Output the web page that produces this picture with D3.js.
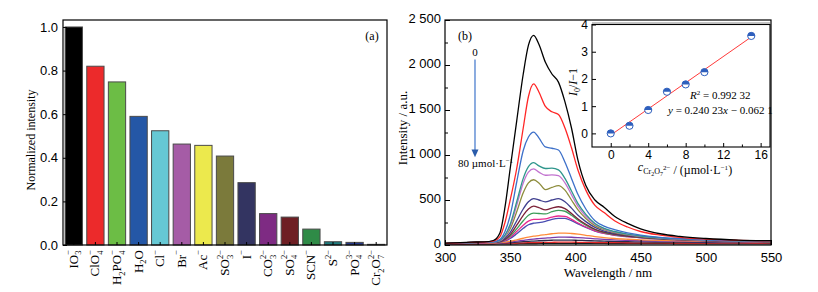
<!DOCTYPE html>
<html>
<head>
<meta charset="utf-8">
<script src="https://cdn.jsdelivr.net/npm/d3@7"></script>
<style>
  body { margin: 0; background: #fff; }
  svg { font-family: "Liberation Serif", "Times New Roman", serif; }
  .tick text { font-size: 13px; fill: #000; }
  .tick line { stroke: #000; }
</style>
</head>
<body>
<div id="chart"></div>
<script>
// (a) normalized intensity per anion
const anions = ["IO_{3}^{−}", "ClO_{4}^{−}", "H_{2}PO_{4}^{−}", "H_{2}O", "Cl^{−}", "Br^{−}", "Ac^{−}",
  "SO_{3}^{2−}", "I^{−}", "CO_{3}^{2−}", "SO_{4}^{2−}", "SCN^{−}", "S^{2−}", "PO_{4}^{3−}", "Cr_{2}O_{7}^{2−}"];
const normIntensity = [1.0, 0.82, 0.748, 0.59, 0.524, 0.463, 0.457, 0.408, 0.286, 0.144, 0.128, 0.073, 0.015, 0.012, 0.003];
const barColors = ["#000000", "#ec2a2b", "#6cbd45", "#2457a6", "#66c8d4", "#a55ca6", "#ece94d", "#7b7a3b",
  "#333461", "#7e2b83", "#6e1f24", "#2f8b47", "#1e7a7d", "#26398a", "#ffffff"];
const yTicksA = [0, 0.2, 0.4, 0.6, 0.8, 1.0];

// (b) emission spectra, 0 -> 80 umol/L dichromate
const wavelengths = [300, 320, 330, 337, 342, 346, 350, 355, 360, 364, 368, 372, 377, 382, 387, 392, 397, 402, 408, 415, 422, 430, 440, 450, 465, 480, 500, 525, 550];
const curve01 = [20, 32, 35, 50, 130, 420, 850, 1380, 1900, 2220, 2330, 2230, 2030, 1900, 1810, 1590, 1300, 940, 660, 500, 420, 320, 240, 180, 125, 95, 72, 55, 48];
const curve02 = [18, 30, 33, 42, 90, 250, 500, 850, 1300, 1650, 1790, 1700, 1540, 1480, 1450, 1300, 1080, 830, 610, 440, 360, 270, 200, 150, 110, 85, 65, 52, 45];
const curve03 = [15, 28, 30, 35, 60, 150, 330, 700, 1050, 1200, 1255, 1190, 1090, 1075, 1055, 920, 740, 560, 400, 270, 210, 170, 135, 110, 85, 72, 58, 48, 42];
const curve04 = [15, 28, 30, 34, 50, 110, 230, 480, 740, 870, 915, 880, 850, 855, 835, 740, 600, 460, 340, 240, 185, 150, 120, 100, 80, 68, 56, 47, 40];
const curve05 = [15, 28, 30, 33, 48, 100, 210, 440, 690, 810, 845, 810, 775, 780, 770, 690, 560, 430, 320, 230, 180, 145, 118, 98, 78, 66, 55, 46, 40];
const curve06 = [15, 28, 30, 32, 45, 90, 180, 370, 580, 690, 725, 690, 615, 640, 660, 610, 500, 390, 295, 215, 170, 138, 112, 94, 76, 64, 54, 45, 39];
const curve07 = [14, 27, 29, 31, 40, 75, 140, 270, 400, 480, 515, 500, 480, 500, 515, 480, 410, 330, 260, 195, 155, 128, 106, 90, 73, 62, 52, 44, 38];
const curve08 = [14, 27, 29, 31, 38, 65, 115, 220, 330, 400, 432, 415, 390, 410, 425, 405, 350, 290, 230, 175, 142, 120, 100, 86, 70, 60, 50, 43, 37];
const curve09 = [14, 27, 29, 31, 36, 58, 100, 180, 270, 330, 355, 350, 345, 370, 385, 375, 330, 275, 220, 170, 138, 116, 98, 84, 69, 59, 49, 42, 36];
const curve10 = [14, 26, 28, 30, 34, 50, 85, 150, 220, 265, 285, 285, 290, 310, 322, 318, 285, 245, 200, 158, 130, 110, 94, 81, 67, 57, 48, 41, 35];
const curve11 = [14, 26, 28, 30, 33, 45, 72, 125, 185, 225, 242, 248, 262, 285, 296, 295, 270, 235, 195, 155, 128, 108, 92, 80, 66, 56, 47, 40, 35];
const curve12 = [12, 22, 24, 25, 27, 32, 42, 58, 75, 88, 98, 105, 115, 125, 132, 133, 128, 120, 108, 94, 82, 72, 64, 58, 51, 46, 41, 37, 33];
const curve13 = [12, 20, 22, 23, 24, 27, 33, 42, 52, 60, 66, 71, 77, 83, 87, 88, 86, 82, 76, 69, 62, 56, 51, 47, 43, 40, 37, 34, 31];
const curve14 = [10, 18, 20, 21, 22, 24, 27, 32, 37, 41, 44, 47, 50, 53, 55, 55, 54, 52, 49, 46, 43, 40, 37, 35, 33, 31, 29, 27, 25];
const curve15 = [8, 14, 15, 16, 17, 18, 20, 22, 24, 26, 27, 28, 29, 30, 31, 31, 31, 30, 29, 28, 27, 26, 25, 24, 23, 22, 21, 20, 19];
const curve16 = [6, 10, 11, 11, 12, 12, 13, 14, 15, 16, 16, 17, 17, 18, 18, 18, 18, 18, 17, 17, 17, 16, 16, 15, 15, 14, 14, 13, 13];
const curves = [curve01, curve02, curve03, curve04, curve05, curve06, curve07, curve08, curve09, curve10, curve11, curve12, curve13, curve14, curve15, curve16];
const curveColors = ["#000000", "#ff2626", "#3d70c9", "#2f968c", "#c273cf", "#8d8c3c", "#3f3f8f", "#7b2036",
  "#3d9d59", "#e8298d", "#4a4db2", "#ff8b3a", "#7a3bab", "#2b2b4b", "#e02828", "#1c1c1c"];
const xTicksB = [300, 350, 400, 450, 500, 550];
const yTicksB = [0, 500, 1000, 1500, 2000, 2500];

// inset: Stern-Volmer
const svConc = [0, 2, 4, 6, 8, 10, 15];
const svRatio = [0.0, 0.28, 0.86, 1.53, 1.8, 2.25, 3.58];
const svSlope = 0.24023, svIntercept = -0.0621;

const W = 818, H = 292;
const svg = d3.select("#chart").append("svg").attr("width", W).attr("height", H);

// rich text helper: "X_{sub}^{sup}", sup stacked over a preceding sub
function richText(sel, str, size, subSize) {
  const tokens = str.match(/(_\{[^}]*\}|\^\{[^}]*\}|[^_^]+)/g);
  let offset = 0, lastSub = null;
  tokens.forEach(t => {
    if (t[0] === "_") {
      const ts = sel.append("tspan").attr("font-size", subSize).attr("dy", 3.5 - offset).text(t.slice(2, -1));
      offset = 3.5; lastSub = ts;
    } else if (t[0] === "^") {
      const ts = sel.append("tspan").attr("font-size", subSize).attr("dy", -6.5 - offset).text(t.slice(2, -1));
      if (lastSub) ts.attr("dx", -lastSub.node().getComputedTextLength());
      offset = -6.5; lastSub = null;
    } else {
      sel.append("tspan").attr("font-size", size).attr("dy", -offset).text(t);
      offset = 0; lastSub = null;
    }
  });
}

// ---------- panel (a) ----------
const xa = d3.scaleBand().domain(d3.range(anions.length)).range([63, 387]).paddingInner(0.2).paddingOuter(0.1);
const ya = d3.scaleLinear().domain([0, 1.032]).range([245, 20]);

const ga = svg.append("g");
ga.selectAll("rect.bar")
  .data(normIntensity)
  .enter().append("rect")
    .attr("class", "bar")
    .attr("x", (d, i) => xa(i))
    .attr("y", d => ya(d))
    .attr("width", xa.bandwidth())
    .attr("height", d => ya(0) - ya(d))
    .attr("fill", (d, i) => barColors[i])
    .attr("stroke", "#4a4a4a")
    .attr("stroke-width", 1);

ga.append("g")
  .attr("transform", "translate(63,0)")
  .call(d3.axisLeft(ya).tickValues(yTicksA).tickFormat(d3.format(".1f")).tickSizeInner(-4).tickSizeOuter(0).tickPadding(5))
  .call(g => g.select(".domain").remove());

ga.append("g")
  .attr("transform", "translate(0,245)")
  .call(d3.axisBottom(xa).tickFormat("").tickSizeInner(-3).tickSizeOuter(0))
  .call(g => g.select(".domain").remove());

ga.append("rect").attr("x", 63).attr("y", 20).attr("width", 324).attr("height", 225)
  .attr("fill", "none").attr("stroke", "#000").attr("stroke-width", 1.2);

anions.forEach((a, i) => {
  const t = ga.append("text")
    .attr("transform", `translate(${xa(i) + xa.bandwidth() / 2 + 4},250) rotate(-90)`)
    .attr("text-anchor", "end")
    .attr("font-size", 13);
  richText(t, a, 13, 8.5);
});

ga.append("text")
  .attr("transform", "translate(35,140) rotate(-90)")
  .attr("text-anchor", "middle")
  .attr("font-size", 12)
  .text("Normalized intensity");

ga.append("text").attr("x", 372).attr("y", 40).attr("text-anchor", "middle").attr("font-size", 12).text("(a)");

// ---------- panel (b) ----------
const xb = d3.scaleLinear().domain([300, 550]).range([445, 771]);
const yb = d3.scaleLinear().domain([0, 2500]).range([245, 20]);

const gb = svg.append("g");
gb.append("clipPath").attr("id", "clipB").append("rect").attr("x", 445).attr("y", 20).attr("width", 326).attr("height", 225);

const line = d3.line().x((d, i) => xb(wavelengths[i])).y(d => yb(d)).curve(d3.curveMonotoneX);
gb.append("g").attr("clip-path", "url(#clipB)")
  .selectAll("path.spec")
  .data(curves.map((c, i) => ({c, i})).reverse())
  .enter().append("path")
    .attr("class", "spec")
    .attr("d", d => line(d.c))
    .attr("fill", "none")
    .attr("stroke", d => curveColors[d.i])
    .attr("stroke-width", 1.3);

const fmtK = d => d3.format(",")(d).replace(",", " ");
gb.append("g")
  .attr("transform", "translate(445,0)")
  .call(d3.axisLeft(yb).tickValues(yTicksB).tickFormat(fmtK).tickSizeInner(-5).tickSizeOuter(0).tickPadding(4))
  .call(g => g.select(".domain").remove())
  .call(g => g.selectAll("text").attr("dy", "0.2em"));
gb.append("g")
  .attr("transform", "translate(445,0)")
  .call(d3.axisLeft(yb).tickValues([250, 750, 1250, 1750, 2250]).tickFormat("").tickSizeInner(-3).tickSizeOuter(0))
  .call(g => g.select(".domain").remove());
gb.append("g")
  .attr("transform", "translate(0,245)")
  .call(d3.axisBottom(xb).tickValues(xTicksB).tickSizeInner(-5).tickSizeOuter(0).tickPadding(8))
  .call(g => g.select(".domain").remove());
gb.append("g")
  .attr("transform", "translate(0,245)")
  .call(d3.axisBottom(xb).tickValues([325, 375, 425, 475, 525]).tickFormat("").tickSizeInner(-3).tickSizeOuter(0))
  .call(g => g.select(".domain").remove());

gb.append("rect").attr("x", 445).attr("y", 20).attr("width", 326).attr("height", 225)
  .attr("fill", "none").attr("stroke", "#000").attr("stroke-width", 1.2);

gb.append("text")
  .attr("transform", "translate(407,128) rotate(-90)")
  .attr("text-anchor", "middle").attr("font-size", 13)
  .text("Intensity / a.u.");
gb.append("text").attr("x", 608).attr("y", 277).attr("text-anchor", "middle").attr("font-size", 13).text("Wavelength / nm");
gb.append("text").attr("x", 465).attr("y", 40).attr("text-anchor", "middle").attr("font-size", 12).text("(b)");

// concentration arrow
gb.append("line")
  .attr("x1", xb(323)).attr("x2", xb(323)).attr("y1", yb(2060)).attr("y2", yb(1040))
  .attr("stroke", "#6f98d8").attr("stroke-width", 1.6);
gb.append("path")
  .attr("d", `M${xb(323) - 3.5},${yb(1060)} L${xb(323) + 3.5},${yb(1060)} L${xb(323)},${yb(975)} Z`)
  .attr("fill", "#2a5caa");
gb.append("text").attr("x", xb(323)).attr("y", yb(2100)).attr("text-anchor", "middle").attr("font-size", 11).text("0");
const lab80 = gb.append("text").attr("x", xb(310)).attr("y", yb(870)).attr("font-size", 11);
lab80.append("tspan").text("80 µmol·L");
lab80.append("tspan").attr("font-size", 7).attr("dy", -4).text("−1");

// ---------- inset ----------
const xc = d3.scaleLinear().domain([-2, 17]).range([592, 770]);
const yc = d3.scaleLinear().domain([-0.5, 4]).range([147, 24.5]);
const gc = svg.append("g");
gc.append("rect").attr("x", 592).attr("y", 24.5).attr("width", 178).attr("height", 122.5)
  .attr("fill", "#fff").attr("stroke", "#000").attr("stroke-width", 1.1);
gc.append("line").attr("x1", 592).attr("x2", 770).attr("y1", 23).attr("y2", 23).attr("stroke", "#888").attr("stroke-width", 1);

gc.append("line")
  .attr("x1", xc(0)).attr("x2", xc(15))
  .attr("y1", yc(svIntercept)).attr("y2", yc(svSlope * 15 + svIntercept))
  .attr("stroke", "#ff3a3a").attr("stroke-width", 1);

const pts = gc.selectAll("g.pt").data(svConc).enter().append("g")
  .attr("class", "pt")
  .attr("transform", (d, i) => `translate(${xc(d)},${yc(svRatio[i])})`);
pts.append("circle").attr("r", 3.6).attr("fill", "#fff").attr("stroke", "#2e5fbd").attr("stroke-width", 1);
pts.append("path").attr("d", "M-3.6,0 A3.6,3.6 0 0 1 3.6,0 Z").attr("fill", "#2e5fbd");

gc.append("g")
  .attr("transform", "translate(592,0)")
  .call(d3.axisLeft(yc).tickValues([0, 1, 2, 3, 4]).tickFormat(d3.format("d")).tickSizeInner(-4).tickSizeOuter(0).tickPadding(4))
  .call(g => g.select(".domain").remove())
  .call(g => g.selectAll("text").style("font-size", "12px"));
gc.append("g")
  .attr("transform", "translate(0,147)")
  .call(d3.axisBottom(xc).tickValues([0, 4, 8, 12, 16]).tickFormat(d3.format("d")).tickSizeInner(-4).tickSizeOuter(0).tickPadding(3))
  .call(g => g.select(".domain").remove())
  .call(g => g.selectAll("text").style("font-size", "12px"));
gc.append("g")
  .attr("transform", "translate(0,147)")
  .call(d3.axisBottom(xc).tickValues([2, 6, 10, 14]).tickFormat("").tickSizeInner(-2.5).tickSizeOuter(0))
  .call(g => g.select(".domain").remove());

const yl = gc.append("text").attr("transform", "translate(577,82) rotate(-90)").attr("text-anchor", "middle").attr("font-size", 12);
yl.append("tspan").attr("font-style", "italic").text("I");
yl.append("tspan").attr("font-size", 8).attr("dy", 2.5).text("0");
yl.append("tspan").attr("dy", -2.5).text("/");
yl.append("tspan").attr("font-style", "italic").text("I");
yl.append("tspan").text("−1");

const r2 = gc.append("text").attr("x", 690).attr("y", 99).attr("font-size", 11);
r2.append("tspan").attr("font-style", "italic").text("R");
r2.append("tspan").attr("font-size", 7).attr("dy", -4).text("2");
r2.append("tspan").attr("dy", 4).text(" = 0.992 32");

const eq = gc.append("text").attr("x", 668).attr("y", 114).attr("font-size", 11);
eq.append("tspan").attr("font-style", "italic").text("y");
eq.append("tspan").text(" = 0.240 23");
eq.append("tspan").attr("font-style", "italic").text("x");
eq.append("tspan").text(" − 0.062 1");

const xl = gc.append("text").attr("x", 685).attr("y", 171).attr("text-anchor", "middle").attr("font-size", 12);
xl.append("tspan").attr("font-style", "italic").text("c");
xl.append("tspan").attr("font-size", 8).attr("dy", 3).text("Cr");
xl.append("tspan").attr("font-size", 6).attr("dy", 2).text("2");
xl.append("tspan").attr("font-size", 8).attr("dy", -2).text("O");
xl.append("tspan").attr("font-size", 6).attr("dy", 2).text("7");
xl.append("tspan").attr("font-size", 7).attr("dy", -6).text("2−");
xl.append("tspan").attr("dy", 4).text(" / (µmol·L");
xl.append("tspan").attr("font-size", 7).attr("dy", -4).text("−1");
xl.append("tspan").attr("dy", 4).text(")");
</script>
</body>
</html>
